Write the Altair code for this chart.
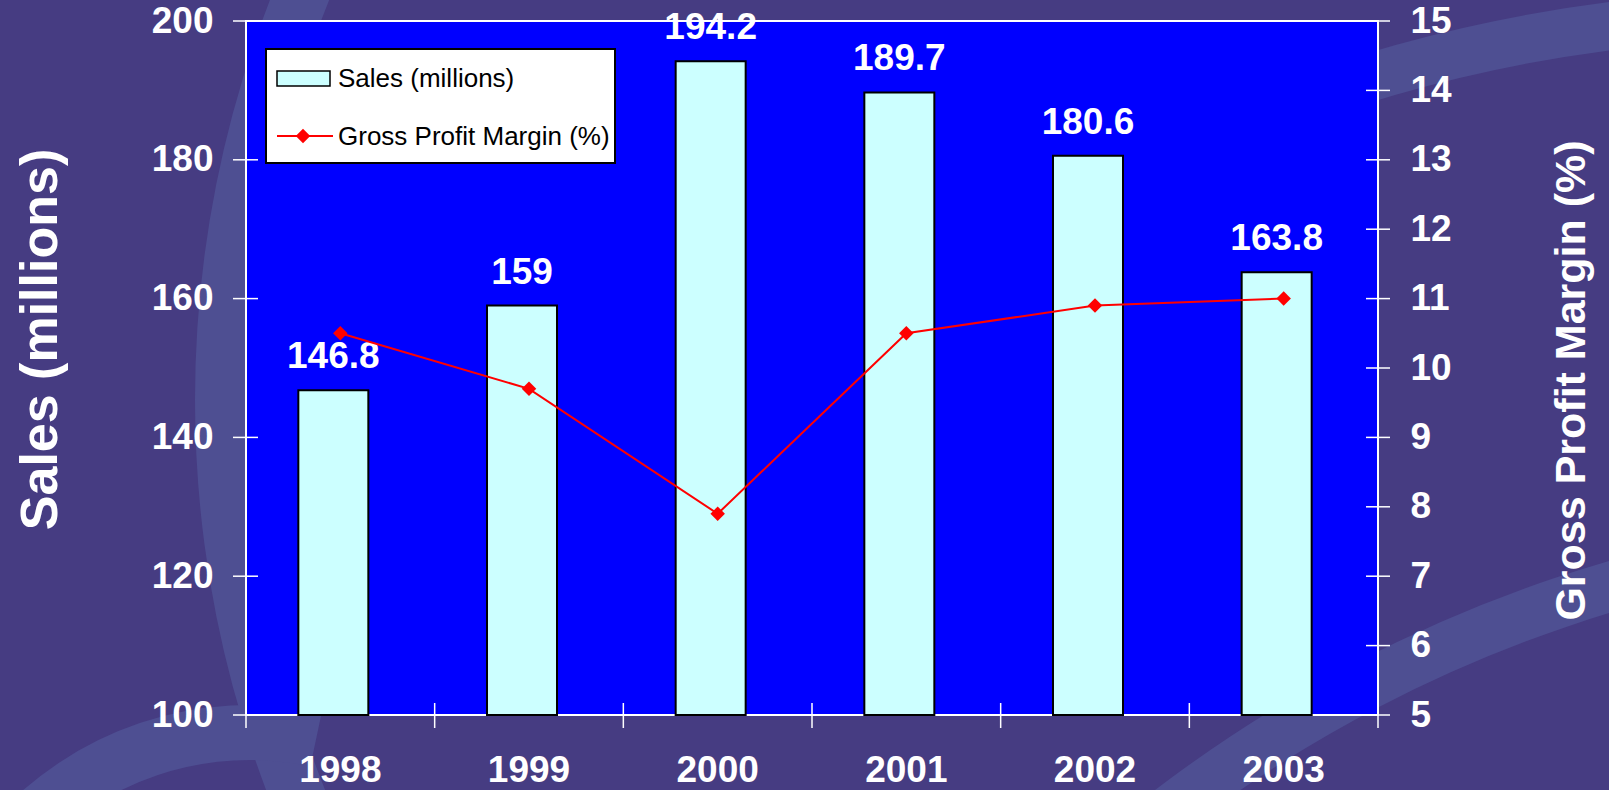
import math
import altair as alt
import pandas as pd

# Annual figures
years = ["1998", "1999", "2000", "2001", "2002", "2003"]
sales = [146.8, 159, 194.2, 189.7, 180.6, 163.8]
margin = [10.5, 9.7, 7.9, 10.5, 10.9, 11.0]

# Axis tick values
sales_ticks = [100, 120, 140, 160, 180, 200]
margin_ticks = [5, 6, 7, 8, 9, 10, 11, 12, 13, 14, 15]

legend_labels = ["Sales (millions)", "Gross Profit Margin (%)"]

W, H = 1132, 694
OX, OY = 246, 21  # plot origin inside the page
FONT = "Liberation Sans"
BG = "#463C82"
SWIRL = "#4E4F92"
PLOT_BG = "#0000FF"
BAR_FILL = "#CCFFFF"
RED = "#FF0000"
MARKER_SIZE = 210

df = pd.DataFrame({"year": years, "sales": sales, "margin": margin})
sales_tick_df = pd.DataFrame({"v": sales_ticks})
margin_tick_df = pd.DataFrame({"v": margin_ticks})
one = pd.DataFrame({"k": [0]})

x_scale = alt.Scale(domain=years, paddingInner=0, paddingOuter=0)
sales_scale = alt.Scale(domain=[100, 200], nice=False, zero=False)
margin_scale = alt.Scale(domain=[5, 15], nice=False, zero=False)


def swirl(cx, cy, r_in, r_out, a0, a1):
    """Decorative background band: a ring segment (page pixels, angles in degrees)."""
    return alt.Chart(one).mark_arc(
        fill=SWIRL, radius=r_out, radius2=r_in,
        theta=math.radians(a0), theta2=math.radians(a1),
    ).encode(x=alt.value(cx - OX), y=alt.value(cy - OY))


backdrop = alt.layer(
    swirl(1300, 400, 1050, 1105, 240, 300),
    swirl(250, 1050, 290, 345, 250, 372),
    swirl(2000, 1900, 1345, 1395, 315, 350),
    swirl(1800, 1500, 1462, 1510, 335, 356),
    alt.Chart(one).mark_rect(fill=PLOT_BG, stroke="white", strokeWidth=2).encode(
        x=alt.value(0), x2=alt.value(W), y=alt.value(0), y2=alt.value(H)
    ),
)

x_axis = alt.Axis(
    title=None, ticks=False, domain=False, labelFont=FONT, labelFontSize=37,
    labelFontWeight="bold", labelColor="white", labelPadding=37, labelAngle=0,
    zindex=2,
)

base = alt.Chart(df)

bars = base.mark_bar(
    size=70, xOffset=-7, fill=BAR_FILL, stroke="black", strokeWidth=2
).encode(
    x=alt.X("year:N", scale=x_scale, axis=x_axis, sort=years),
    y=alt.Y(
        "sales:Q", scale=sales_scale,
        axis=alt.Axis(
            orient="left", values=sales_ticks, ticks=False, domain=False, grid=False,
            labelFont=FONT, labelFontSize=37, labelFontWeight="bold",
            labelColor="white", labelPadding=33,
            title="Sales (millions)", titleFont=FONT, titleFontSize=52,
            titleFontWeight="bold", titleColor="white", titleAngle=270,
            titleX=-206, titleY=318, titleAlign="center", titleBaseline="middle",
            zindex=2,
        ),
    ),
    y2=alt.Y2(datum=100),
)

value_labels = base.mark_text(
    font=FONT, fontSize=37, fontWeight="bold", color="white",
    baseline="alphabetic", dy=-22, dx=-7,
).encode(
    x=alt.X("year:N", scale=x_scale, sort=years),
    y=alt.Y("sales:Q", scale=sales_scale),
    text=alt.Text("sales:Q"),
)

left_ticks = alt.Chart(sales_tick_df).mark_rule(color="white", strokeWidth=1.5).encode(
    y=alt.Y("v:Q", scale=sales_scale),
    x=alt.value(-13), x2=alt.value(12),
)

bottom_ticks = base.mark_rule(color="white", strokeWidth=1.5).encode(
    x=alt.X("year:N", scale=x_scale, sort=years, bandPosition=0),
    y=alt.value(H - 12), y2=alt.value(H + 13),
)
bottom_end_tick = alt.Chart(one).mark_rule(color="white", strokeWidth=1.5).encode(
    x=alt.value(W), y=alt.value(H - 12), y2=alt.value(H + 13),
)

left = alt.layer(bars, value_labels, left_ticks, bottom_ticks, bottom_end_tick)

line = base.mark_line(color=RED, strokeWidth=2).encode(
    x=alt.X("year:N", scale=x_scale, sort=years),
    y=alt.Y(
        "margin:Q", scale=margin_scale,
        axis=alt.Axis(
            orient="right", values=margin_ticks, format="d", ticks=False,
            domain=False, grid=False,
            labelFont=FONT, labelFontSize=37, labelFontWeight="bold",
            labelColor="white", labelPadding=32,
            title="Gross Profit Margin (%)", titleFont=FONT, titleFontSize=43,
            titleFontWeight="bold", titleColor="white", titleAngle=270,
            titleX=193, titleY=359, titleAlign="center", titleBaseline="middle",
            zindex=2,
        ),
    ),
)

points = base.mark_point(
    shape="diamond", filled=True, color=RED, size=MARKER_SIZE, opacity=1
).encode(
    x=alt.X("year:N", scale=x_scale, sort=years),
    y=alt.Y("margin:Q", scale=margin_scale),
)

right_ticks = alt.Chart(margin_tick_df).mark_rule(color="white", strokeWidth=1.5).encode(
    y=alt.Y("v:Q", scale=margin_scale),
    x=alt.value(W - 12), x2=alt.value(W + 12),
)

right = alt.layer(line, points, right_ticks)

# Legend box drawn in pixel space of the plot
legend_box = alt.Chart(one).mark_rect(fill="white", stroke="black", strokeWidth=2).encode(
    x=alt.value(20), x2=alt.value(369), y=alt.value(28), y2=alt.value(142),
)
legend_bar = alt.Chart(one).mark_rect(fill=BAR_FILL, stroke="black", strokeWidth=1.5).encode(
    x=alt.value(31), x2=alt.value(84), y=alt.value(50), y2=alt.value(65),
)
legend_line = alt.Chart(one).mark_rule(color=RED, strokeWidth=2).encode(
    x=alt.value(31), x2=alt.value(87), y=alt.value(115),
)
legend_point = alt.Chart(one).mark_point(
    shape="diamond", filled=True, color=RED, size=MARKER_SIZE, opacity=1
).encode(x=alt.value(57), y=alt.value(115))
legend_text1 = alt.Chart(one).mark_text(
    font=FONT, fontSize=26, color="black", align="left", baseline="middle", text=legend_labels[0]
).encode(x=alt.value(92), y=alt.value(58))
legend_text2 = alt.Chart(one).mark_text(
    font=FONT, fontSize=26, color="black", align="left", baseline="middle", text=legend_labels[1]
).encode(x=alt.value(92), y=alt.value(116))

legend = alt.layer(legend_box, legend_bar, legend_line, legend_point, legend_text1, legend_text2)

chart = (
    alt.layer(backdrop, left, right, legend)
    .resolve_scale(y="independent")
    .properties(
        width=W, height=H,
        autosize=alt.AutoSizeParams(type="none"),
        padding={"left": OX, "top": OY, "right": 1609 - OX - W, "bottom": 790 - OY - H},
        background=BG,
    )
    .configure_view(stroke=None)
)

chart.save("out.html", embed_options={"renderer": "svg", "actions": False})
